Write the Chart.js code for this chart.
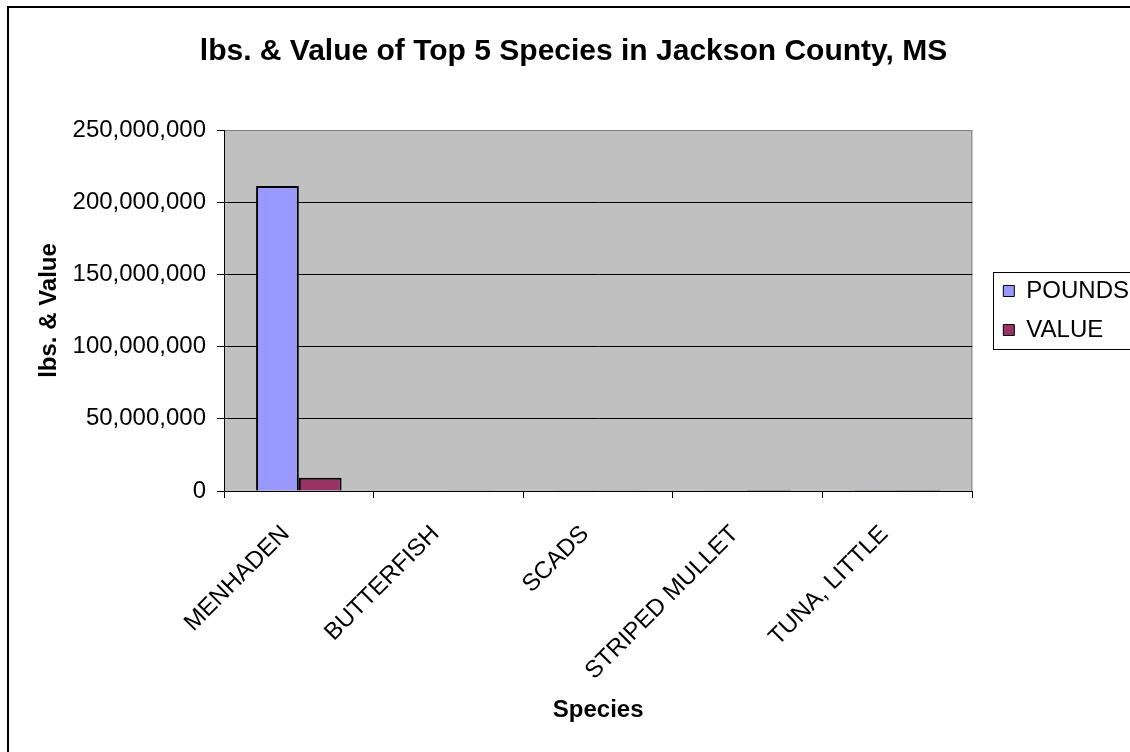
<!DOCTYPE html>
<html>
<head>
<meta charset="utf-8">
<title>Jackson County, MS</title>
<script src="https://cdn.jsdelivr.net/npm/chart.js@4.4.1/dist/chart.umd.min.js"></script>
<style>
    html, body { margin: 0; padding: 0; background: #fff; }
    .chart-container { width: 1130px; height: 752px; }
</style>
</head>
<body>
<div class="chart-container">
    <canvas id="myChart" width="1130" height="752"></canvas>
</div>
<script>
// 1, 데이터

    // 어종 (x축 항목)
    let species = ['MENHADEN', 'BUTTERFISH', 'SCADS', 'STRIPED MULLET', 'TUNA, LITTLE'];
    // 파운드
    let pounds = [211300000, 310000, 180000, 120000, 60000];
    // 금액
    let values = [9100000, 150000, 90000, 60000, 30000];
    // y축 눈금
    let yTicks = [0, 50000000, 100000000, 150000000, 200000000, 250000000];

    let 글꼴 = '"Liberation Sans", Arial, sans-serif';
    Chart.defaults.font.family = 글꼴;
    Chart.defaults.color = '#000';

// 2, 그리기 보조 플러그인

    // 흰 배경 + 바깥 테두리 + 회색 그래프영역
    let 배경그리기 = {
        id: 'background',
        beforeDraw(chart) {
            let c = chart.ctx;
            let a = chart.chartArea;
            c.save();
            c.fillStyle = '#fff';
            c.fillRect(0, 0, chart.width, chart.height);
            c.strokeStyle = '#000';
            c.lineWidth = 2;
            c.strokeRect(8, 7, chart.width + 20, chart.height + 20);
            c.fillStyle = '#c0c0c0';
            c.fillRect(a.left, a.top, a.right - a.left, a.bottom - a.top);
            c.strokeStyle = '#808080';
            c.lineWidth = 1;
            c.beginPath();
            c.moveTo(a.left, a.top + 0.5);
            c.lineTo(a.right - 0.5, a.top + 0.5);
            c.lineTo(a.right - 0.5, a.bottom);
            c.stroke();
            c.restore();
        }
    };

    // 범례 테두리
    let 범례테두리 = {
        id: 'legendBox',
        afterDraw(chart) {
            let lg = chart.legend;
            let hb = lg.legendHitBoxes;
            if (!hb || !hb.length) return;
            let last = hb[hb.length - 1];
            let c = chart.ctx;
            c.save();
            c.strokeStyle = '#000';
            c.lineWidth = 1;
            let top = hb[0].top - 7;
            let bottom = last.top + last.height + 7;
            c.strokeRect(Math.round(hb[0].left) - 9.5, top + 0.5, chart.width, bottom - top);
            c.restore();
        }
    };

// 3, 차트

    var ctx = document.getElementById('myChart').getContext('2d');
    var newChart = new Chart(ctx, {
        type: 'bar',
        data: {
            labels: species,
            datasets: [
                { label: 'POUNDS', data: pounds, backgroundColor: '#9999ff', borderColor: '#000', borderWidth: 2 },
                { label: 'VALUE', data: values, backgroundColor: '#993366', borderColor: '#000', borderWidth: 2 }
            ]
        },
        options: {
            responsive: false,
            animation: false,
            devicePixelRatio: 1,
            layout: { padding: { left: 8, right: -9, top: 0, bottom: 0 } },
            datasets: { bar: { categoryPercentage: 2 / 3.5, barPercentage: 1 } },
            plugins: {
                title: {
                    display: true,
                    text: 'lbs. & Value of Top 5 Species in Jackson County, MS',
                    font: { size: 30, weight: 'bold' },
                    color: '#000',
                    padding: { top: 34, bottom: 60 }
                },
                legend: {
                    position: 'right',
                    fullSize: false,
                    labels: {
                        boxWidth: 11,
                        boxHeight: 11,
                        padding: 15,
                        font: { size: 24 },
                        color: '#000',
                        generateLabels(chart) {
                            return chart.data.datasets.map((d, i) => ({
                                text: d.label,
                                fillStyle: d.backgroundColor,
                                strokeStyle: '#000',
                                lineWidth: 1,
                                datasetIndex: i
                            }));
                        }
                    }
                },
                tooltip: { enabled: false }
            },
            scales: {
                x: {
                    offset: true,
                    grid: { display: true, drawOnChartArea: false, drawTicks: true, tickLength: 7, color: '#000', offset: true },
                    border: { display: true, color: '#000', width: 1 },
                    ticks: { maxRotation: 45, minRotation: 45, padding: 22, labelOffset: -13, font: { size: 24 }, color: '#000', autoSkip: false },
                    title: { display: true, text: 'Species', font: { size: 24, weight: 'bold' }, color: '#000', padding: { top: 0, bottom: 27.6 } },
                    afterFit(s) { s.height = 752 - 491; }
                },
                y: {
                    min: 0,
                    max: 250000000,
                    afterBuildTicks(s) { s.ticks = yTicks.map(v => ({ value: v })); },
                    grid: {
                        color: c => (c.tick && c.tick.value === 250000000) ? '#808080' : '#000',
                        tickColor: '#000',
                        tickLength: 7
                    },
                    border: { display: true, color: '#000', width: 1 },
                    ticks: {
                        padding: 11,
                        font: { size: 24 },
                        color: '#000',
                        callback: v => Number(v).toLocaleString('en-US')
                    },
                    title: { display: true, text: 'lbs. & Value', font: { size: 24, weight: 'bold' }, color: '#000', padding: { top: 26.8, bottom: 0 } },
                    afterFit(s) { s.width = 224 - 8; }
                },
                // 그래프영역과 범례 사이 간격용 (보이지 않음)
                gap: {
                    type: 'linear',
                    position: 'right',
                    display: true,
                    grid: { display: false },
                    border: { display: false },
                    ticks: { display: false },
                    afterFit(s) { s.width = 16; }
                }
            }
        },
        plugins: [배경그리기, 범례테두리]
    });
</script>
</body>
</html>
